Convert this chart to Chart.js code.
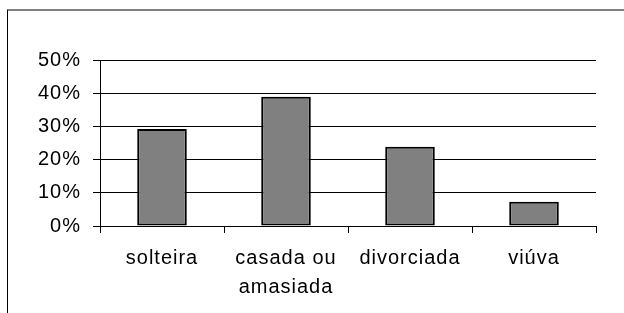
<!DOCTYPE html>
<html>
<head>
<meta charset="utf-8">
<script src="https://cdn.jsdelivr.net/npm/chart.js@4"></script>
<style>
    body { margin: 0; background: #fff; }
    #frame {
        position: absolute; left: 7px; top: 9px; width: 700px; height: 400px;
        border-left: 1px solid #000; border-top: 2px solid #808080;
    }
    #chart { position: absolute; left: 0; top: 0; }
</style>
</head>
<body>
<div id="frame"></div>
<canvas id="chart" width="624" height="313"></canvas>
<script>
// 値（%）
const categories = [['solteira'], ['casada ou', 'amasiada'], ['divorciada'], ['viúva']];
const percentValues = [29.2, 38.9, 23.9, 7.3];
const yTicks = [0, 10, 20, 30, 40, 50];

const chartCtx = document.getElementById('chart').getContext('2d');

const fontFamily = '"Liberation Sans", Arial, sans-serif';

new Chart(chartCtx, {
    type: 'bar',
    data: {
        labels: categories,
        datasets: [{
            data: percentValues,
            backgroundColor: '#808080',
            borderColor: '#000',
            borderWidth: 2,
            borderSkipped: false,
            barPercentage: 0.4,
            categoryPercentage: 1
        }]
    },
    options: {
        responsive: false,
        animation: false,
        devicePixelRatio: 1,
        layout: { padding: { left: 20, right: 28, top: 60, bottom: 0 } },
        plugins: {
            legend: { display: false },
            tooltip: { enabled: false }
        },
        scales: {
            x: {
                afterFit(scale) { scale.height = 87; },
                grid: {
                    offset: true,
                    drawOnChartArea: false,
                    color: '#000',
                    tickLength: 7
                },
                border: { color: '#000', width: 1 },
                ticks: {
                    color: '#000',
                    padding: 11,
                    maxRotation: 0,
                    font: { family: fontFamily, size: 20, lineHeight: 1.45 }
                }
            },
            y: {
                min: 0,
                max: 50,
                afterFit(scale) { scale.width = 80; },
                afterBuildTicks(scale) {
                    scale.ticks = yTicks.map(v => ({ value: v }));
                },
                grid: { color: '#000', tickLength: 7 },
                border: { color: '#000', width: 1 },
                ticks: {
                    color: '#000',
                    padding: 12,
                    font: { family: fontFamily, size: 20 },
                    callback: v => v + '%'
                }
            }
        }
    },
    plugins: [{
        id: 'letterSpacing',
        beforeDraw(chart) {
            chart.ctx.letterSpacing = '1px';
        }
    }]
});
</script>
</body>
</html>
